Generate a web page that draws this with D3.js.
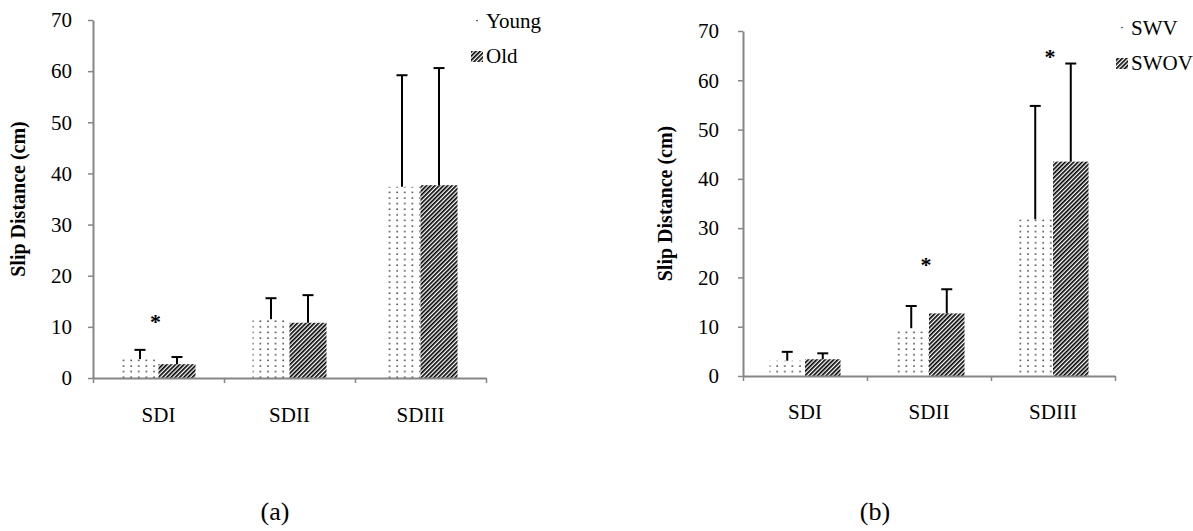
<!DOCTYPE html>
<html><head><meta charset="utf-8">
<script src="https://cdn.jsdelivr.net/npm/d3@7"></script>
<style>body{margin:0;background:#fff}svg{display:block}</style>
</head><body>
<script>
// ---------- data ----------
const categories = ["SDI", "SDII", "SDIII"];
const yTicks = [0, 10, 20, 30, 40, 50, 60, 70];
const yLabel = "Slip Distance (cm)";

// panel (a)
const seriesA = ["Young", "Old"];
const youngMean = [3.7, 11.5, 37.4];
const youngSD   = [1.8, 4.1, 21.8];
const oldMean   = [2.7, 10.8, 37.7];
const oldSD     = [1.4, 5.4, 22.9];
const starCatsA = ["SDI"];
const starValsA = [11.7];

// panel (b)
const seriesB = ["SWV", "SWOV"];
const swvMean  = [3.1, 9.7, 31.8];
const swvSD    = [1.8, 4.5, 23.0];
const swovMean = [3.4, 12.7, 43.5];
const swovSD   = [1.2, 4.9, 19.9];
const starCatsB = ["SDII", "SDIII"];
const starValsB = [23.3, 65.5];

const captions = ["(a)", "(b)"];

// ---------- drawing ----------
const W = 1193, H = 531;
const FONT = "'Liberation Serif', 'Times New Roman', serif";
const svg = d3.select("body").append("svg").attr("width", W).attr("height", H);

const defs = svg.append("defs");
const dots = defs.append("pattern").attr("id", "dots").attr("patternUnits", "userSpaceOnUse")
  .attr("width", 7.6).attr("height", 5.6);
dots.append("rect").attr("width", 7.6).attr("height", 5.6).attr("fill", "#fff");
dots.append("circle").attr("cx", 2).attr("cy", 2).attr("r", 0.85).attr("fill", "#333");

const dotsLeg = defs.append("pattern").attr("id", "dotsLeg").attr("patternUnits", "objectBoundingBox")
  .attr("width", 1).attr("height", 1);
dotsLeg.append("circle").attr("cx", 6).attr("cy", 4.5).attr("r", 0.85).attr("fill", "#333");

const hatch = defs.append("pattern").attr("id", "hatch").attr("patternUnits", "userSpaceOnUse")
  .attr("width", 3).attr("height", 3).attr("patternTransform", "rotate(45)");
hatch.append("rect").attr("width", 3).attr("height", 3).attr("fill", "#fff");
hatch.append("rect").attr("width", 1.65).attr("height", 3).attr("fill", "#000");

const fills = ["url(#dots)", "url(#hatch)"];
const legFills = ["url(#dotsLeg)", "url(#hatch)"];

function panel(cfg, series, means, sds, starCats, starVals, caption) {
  const g = svg.append("g");
  const y = d3.scaleLinear().domain([0, 70]).range([cfg.bottom, cfg.top]);
  const x0 = d3.scaleBand().domain(categories).range([cfg.left, cfg.right]);
  const gw = x0.bandwidth() * cfg.groupFrac;
  const x1 = d3.scaleBand().domain(series).range([0, gw]);
  const bx = (c, s) => x0(c) + (x0.bandwidth() - gw) / 2 + x1(s);

  // bars + error bars
  series.forEach((s, i) => {
    const rows = categories.map((c, j) => ({c, m: means[i][j], sd: sds[i][j]}));
    g.append("g").selectAll("rect").data(rows).join("rect")
      .attr("x", d => bx(d.c, s))
      .attr("y", d => y(d.m))
      .attr("width", x1.bandwidth())
      .attr("height", d => y(0) - y(d.m))
      .attr("fill", fills[i]);
    const eb = g.append("g").attr("stroke", "#000").attr("stroke-width", 2);
    eb.selectAll("line.v").data(rows).join("line").attr("class", "v")
      .attr("x1", d => bx(d.c, s) + x1.bandwidth() / 2)
      .attr("x2", d => bx(d.c, s) + x1.bandwidth() / 2)
      .attr("y1", d => y(d.m)).attr("y2", d => y(d.m + d.sd));
    eb.selectAll("line.h").data(rows).join("line").attr("class", "h")
      .attr("x1", d => bx(d.c, s) + x1.bandwidth() / 2 - 5.5)
      .attr("x2", d => bx(d.c, s) + x1.bandwidth() / 2 + 5.5)
      .attr("y1", d => y(d.m + d.sd)).attr("y2", d => y(d.m + d.sd));
  });

  // y axis
  g.append("g").attr("transform", `translate(${cfg.left},0)`)
    .call(d3.axisLeft(y).tickValues(yTicks).tickSize(5).tickSizeOuter(0).tickPadding(cfg.tickPad))
    .attr("font-family", FONT).attr("font-size", 21)
    .call(a => a.select(".domain").attr("stroke", "#868686").attr("stroke-width", 2))
    .call(a => a.selectAll(".tick line").attr("stroke", "#868686").attr("stroke-width", 1.5))
    .call(a => a.selectAll(".tick text").attr("fill", "#000"));

  // x axis (boundary ticks)
  const xb = d3.scaleLinear().domain([0, categories.length]).range([cfg.left, cfg.right]);
  g.append("g").attr("transform", `translate(0,${cfg.bottom})`)
    .call(d3.axisBottom(xb).tickValues(d3.range(0, categories.length + 1)).tickSize(5).tickSizeOuter(0).tickFormat(""))
    .call(a => a.select(".domain").attr("stroke", "#868686").attr("stroke-width", 2))
    .call(a => a.selectAll(".tick line").attr("stroke", "#868686").attr("stroke-width", 1.5));
  // category labels
  g.append("g").attr("transform", `translate(0,${cfg.bottom})`)
    .call(d3.axisBottom(x0).tickSize(0))
    .attr("font-family", FONT).attr("font-size", 21)
    .call(a => a.select(".domain").remove())
    .call(a => a.selectAll(".tick text").attr("fill", "#000").attr("dy", 0).attr("y", cfg.catY));

  // y label
  g.append("text")
    .attr("transform", `translate(${cfg.labelX},${(cfg.top + cfg.bottom) / 2}) rotate(-90)`)
    .attr("text-anchor", "middle").attr("font-family", FONT).attr("font-size", 20)
    .attr("font-weight", "bold").attr("fill", "#000").text(yLabel);

  // significance stars
  g.selectAll("text.star").data(starCats.map((c, k) => ({c, v: starVals[k]}))).join("text")
    .attr("class", "star")
    .attr("x", d => x0(d.c) + x0.bandwidth() / 2 - 3)
    .attr("y", d => y(d.v) + 11)
    .attr("text-anchor", "middle").attr("font-family", FONT).attr("font-size", 22)
    .attr("font-weight", "bold").attr("fill", "#000").text("*");

  // legend
  const leg = g.append("g");
  series.forEach((s, i) => {
    const by = cfg.legY + i * 35;
    leg.append("rect").attr("x", cfg.legX).attr("y", by - 12).attr("width", 12).attr("height", 11)
      .attr("fill", legFills[i]);
    leg.append("text").attr("x", cfg.legX + 15).attr("y", by)
      .attr("font-family", FONT).attr("font-size", 21).attr("fill", "#000").text(s);
  });

  // caption
  g.append("text").attr("x", cfg.capX).attr("y", cfg.capY).attr("text-anchor", "middle")
    .attr("font-family", FONT).attr("font-size", 26).attr("fill", "#000").text(caption);
}

panel({left: 93, right: 486, top: 20, bottom: 378, groupFrac: 0.565, tickPad: 16, catY: 44,
       labelX: 25, legX: 471, legY: 28, capX: 275, capY: 520},
      seriesA, [youngMean, oldMean], [youngSD, oldSD], starCatsA, starValsA, captions[0]);

panel({left: 743, right: 1115, top: 31, bottom: 376, groupFrac: 0.573, tickPad: 19, catY: 43,
       labelX: 672, legX: 1116, legY: 35, capX: 875, capY: 520},
      seriesB, [swvMean, swovMean], [swvSD, swovSD], starCatsB, starValsB, captions[1]);
</script>
</body></html>
